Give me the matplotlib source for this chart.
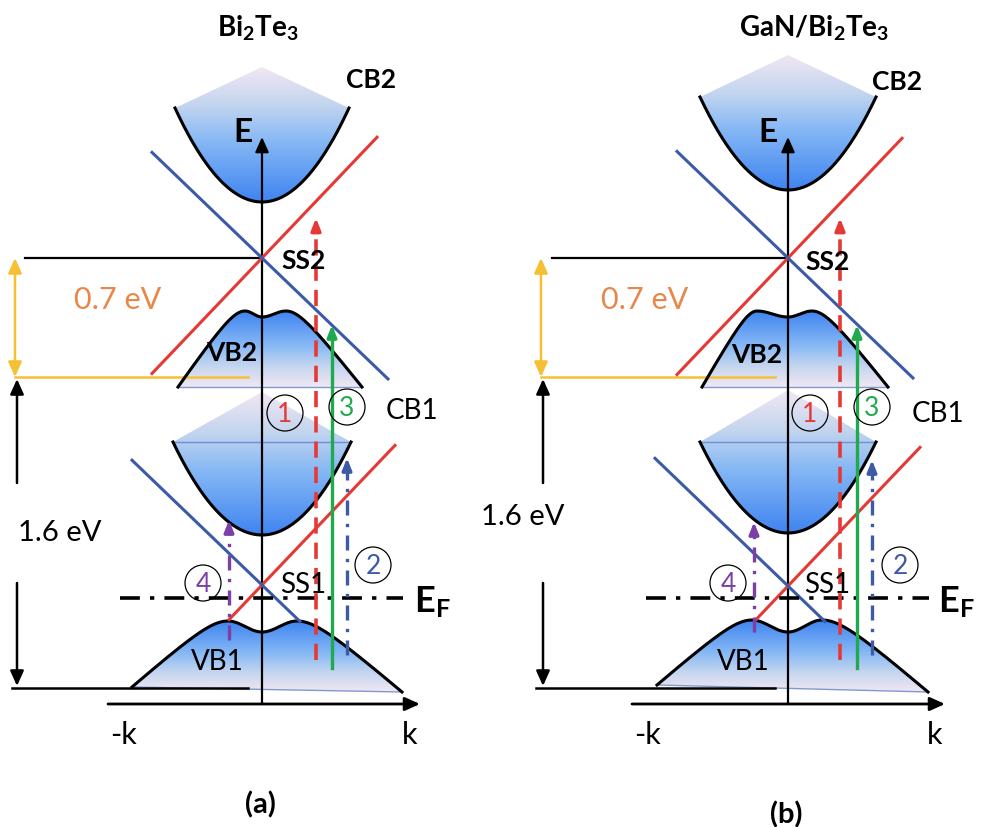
import numpy as np
import matplotlib.pyplot as plt
from matplotlib.patches import Polygon, Circle
from matplotlib.colors import LinearSegmentedColormap

plt.rcParams['font.family'] = ['Lato', 'DejaVu Sans']
plt.rcParams['mathtext.fontset'] = 'custom'
plt.rcParams['mathtext.rm'] = 'Lato'
plt.rcParams['mathtext.bf'] = 'Lato:bold'
plt.rcParams['mathtext.it'] = 'Lato:italic'

# ---- band-structure sketch, pixel units (y grows downward) ----
titles = [r'$\mathbf{Bi_2Te_3}$', r'$\mathbf{GaN/Bi_2Te_3}$']
tags = ['(a)', '(b)']
k0 = [262, 788]                 # Gamma point, E axis
k_left = [-154, -156]           # k axis start (relative)
k_right = [158, 157]            # k axis end (relative)
k_axis_y = 704
e_axis_top = 137

# conduction bands: minimum, rim, top of shading, half width at rim
cb2_min = [202, 190]
cb2_rim = [108, 97]
cb2_apex = [67, 55]
cb2_half = [87, 88]
cb1_min = [535, 533]
cb1_rim = [442, 442]
cb1_apex = [392, 390]
cb1_half = [89, 88]

# valence bands: hump top, dip at Gamma, hump positions, feet (k, E)
vb2_peak = [311, 311]
vb2_dip = [317, 317]
vb2_hump = [(-17, 24), (-31, 24)]
vb2_feet = [(-84, 100), (-86, 100)]
vb2_foot_e = [387, 387]
vb1_peak = [621, 620]
vb1_dip = [632, 632]
vb1_hump = [(-34, 35), (-36, 34)]
vb1_feet = [(-130, 140), (-131, 140)]
vb1_foot_e = [(687, 692), (685, 692)]

# surface-state Dirac cones: Dirac energy, k span of each branch
ss2_e = [258, 258]
ss2_red = [(-110, 115), (-111, 114)]
ss2_blue = [(-110, 126), (-111, 125)]
ss1_e = [585, 586]
ss1_red = [(-33, 133), (-33, 132)]
ss1_blue = [(-130, 38), (-133, 37)]
red_slope, blue_slope = 1.05, 0.96

# optical transitions: k, start E, end E
tr1 = [(54, 660, 218), (52, 660, 218)]
tr2 = [(85, 655, 458), (84, 655, 460)]
tr3 = [(70, 668, 325), (69, 668, 325)]
tr4 = [(-33, 640, 520), (-34, 632, 522)]
circ1 = [(285, 413), (810, 413)]
circ2 = [(373, 565), (900, 565)]
circ3 = [(347, 407), (872, 407)]
circ4 = [(203, 583), (728, 583)]

# energy scale bars
bar_x = [15, 541]
bar_line_start = [25, 552]
bar_low_start = [12, 536]
bar_line_end = [248, 775]
gap_top = 258
gap_mid = 377
gap_bottom = 688
gap_small = '0.7 eV'
gap_large = '1.6 eV'
small_pos = [(118, 300), (645, 300)]
large_pos = [(60, 533), (523, 517)]
ef_level = 598
ef_label_x = [414, 938]

RED = '#e53935'
BLUE = '#3d5aa6'
GREEN = '#1faa4e'
PURPLE = '#7b3fa6'
YELLOW = '#f6c035'
ORANGE = '#e8874a'

band_cmap = LinearSegmentedColormap.from_list(
    'band', [(0, '#3f84f0'), (0.45, '#86b8f5'), (0.72, '#c3d5ef'), (1, '#f1e7f3')])

fig = plt.figure(figsize=(9.81, 8.27), dpi=100)
ax = fig.add_axes([0, 0, 1, 1])
ax.axis('off')


def shade(xy, y_dark, y_light):
    patch = Polygon(xy, closed=True, facecolor='none', edgecolor='none')
    ax.add_patch(patch)
    ys = np.linspace(xy[:, 1].min(), xy[:, 1].max(), 300)
    vals = np.clip((ys - y_dark) / (y_light - y_dark), 0, 1)
    im = ax.imshow(vals[:, None], cmap=band_cmap, vmin=0, vmax=1,
                   extent=(xy[:, 0].min(), xy[:, 0].max(), ys.max(), ys.min()),
                   origin='upper', aspect='auto', interpolation='bilinear', zorder=1)
    im.set_clip_path(patch)


def conduction(x0, e_min, e_rim, e_apex, half, rim_line):
    k = np.linspace(-half, half, 200)
    e = e_min - (e_min - e_rim) * (k / half) ** 2
    xy = np.vstack([np.column_stack([x0 + k, e]),
                    [[x0 + half, e_rim], [x0, e_apex], [x0 - half, e_rim]]])
    shade(xy, e_min, e_apex)
    ax.plot(x0 + k, e, color='black', lw=2.2, zorder=3)
    if rim_line:
        ax.plot([x0 - half, x0 + half], [e_rim, e_rim], color='#6f8fd0', lw=1, zorder=2)


def valence(x0, e_peak, e_dip, hump, feet, foot_e):
    kl, kr = hump
    fl, fr = feet
    el, er = foot_e
    c = 4.0

    def side(t, e_end):
        s = (np.sqrt(1 + (c * t) ** 2) - 1) / (np.sqrt(1 + c ** 2) - 1)
        return e_peak + (e_end - e_peak) * s

    k = np.linspace(fl, fr, 400)
    e = np.empty_like(k)
    m = k < kl
    e[m] = side((kl - k[m]) / (kl - fl), el)
    m = (k >= kl) & (k < 0)
    e[m] = e_dip + (e_peak - e_dip) * (1 - np.cos(np.pi * k[m] / kl)) / 2
    m = (k >= 0) & (k <= kr)
    e[m] = e_dip + (e_peak - e_dip) * (1 - np.cos(np.pi * k[m] / kr)) / 2
    m = k > kr
    e[m] = side((k[m] - kr) / (fr - kr), er)
    xy = np.column_stack([x0 + k, e])
    shade(xy, e_peak, max(el, er))
    ax.plot(x0 + k, e, color='black', lw=2.2, zorder=3)
    ax.plot([x0 + fl, x0 + fr], [el, er], color='#7d9bd0', lw=1, zorder=2)


def cone(x0, e_d, red_span, blue_span):
    kr = np.array(red_span)
    kb = np.array(blue_span)
    ax.plot(x0 + kr, e_d - red_slope * kr, color=RED, lw=2.2, zorder=4)
    ax.plot(x0 + kb, e_d + blue_slope * kb, color=BLUE, lw=2.2, zorder=4)


def up_arrow(x, y0, y1, color, ls, lw=2.2):
    head = 10
    ax.plot([x, x], [y0, y1 + head * 0.7], color=color, lw=lw, ls=ls, zorder=5)
    ax.annotate('', xy=(x, y1), xytext=(x, y1 + head),
                arrowprops=dict(arrowstyle='-|>,head_length=1.0,head_width=0.4',
                                mutation_scale=7, color=color, lw=lw,
                                shrinkA=0, shrinkB=0), zorder=5)


def circled(pos, num, color):
    ax.add_patch(Circle(pos, 18, facecolor='none', edgecolor='black', lw=0.9, zorder=6))
    ax.text(pos[0], pos[1] + 1, num, color=color, fontsize=19,
            ha='center', va='center', zorder=7)


label_pos = {
    'CB2': [(371, 80), (897, 82)],
    'E': [(243, 133), (768, 133)],
    'SS2': [(304, 261), (828, 262)],
    'VB2': [(232, 353), (757, 355)],
    'CB1': [(412, 411), (938, 414)],
    'SS1': [(303, 585), (827, 585)],
    'VB1': [(217, 662), (743, 662)],
}
bold_labels = {'CB2', 'E', 'SS2', 'VB2'}

for i in range(2):
    x0 = k0[i]

    conduction(x0, cb2_min[i], cb2_rim[i], cb2_apex[i], cb2_half[i], False)
    conduction(x0, cb1_min[i], cb1_rim[i], cb1_apex[i], cb1_half[i], True)
    valence(x0, vb2_peak[i], vb2_dip[i], vb2_hump[i], vb2_feet[i],
            (vb2_foot_e[i], vb2_foot_e[i]))
    valence(x0, vb1_peak[i], vb1_dip[i], vb1_hump[i], vb1_feet[i], vb1_foot_e[i])

    # E and k axes
    ax.annotate('', xy=(x0, e_axis_top), xytext=(x0, k_axis_y),
                arrowprops=dict(arrowstyle='-|>,head_length=1.0,head_width=0.45',
                                mutation_scale=9, color='black', lw=1.6,
                                shrinkA=0, shrinkB=0), zorder=3)
    ax.annotate('', xy=(x0 + k_right[i], k_axis_y), xytext=(x0 + k_left[i], k_axis_y),
                arrowprops=dict(arrowstyle='-|>,head_length=1.0,head_width=0.45',
                                mutation_scale=9, color='black', lw=2,
                                shrinkA=0, shrinkB=0), zorder=3)

    cone(x0, ss2_e[i], ss2_red[i], ss2_blue[i])
    cone(x0, ss1_e[i], ss1_red[i], ss1_blue[i])

    # Fermi level
    ax.plot([x0 - 142, x0 + 141], [ef_level, ef_level], color='black', lw=2.6,
            ls=(0, (5.5, 2.8, 1.2, 2.8)), zorder=4)
    ax.text(ef_label_x[i], ef_level + 4, r'$\mathbf{E_F}$', fontsize=26,
            ha='left', va='center')

    up_arrow(x0 + tr1[i][0], tr1[i][1], tr1[i][2], RED, (0, (4.5, 2.5)), lw=2.6)
    up_arrow(x0 + tr3[i][0], tr3[i][1], tr3[i][2], GREEN, '-', lw=2.4)
    up_arrow(x0 + tr2[i][0], tr2[i][1], tr2[i][2], BLUE, (0, (4.5, 2.5, 1, 2.5)), lw=2.4)
    up_arrow(x0 + tr4[i][0], tr4[i][1], tr4[i][2], PURPLE, (0, (4.5, 2.5, 1, 2.5)), lw=2.4)
    circled(circ1[i], '1', RED)
    circled(circ2[i], '2', BLUE)
    circled(circ3[i], '3', GREEN)
    circled(circ4[i], '4', PURPLE)

    # energy scale bars
    bx = bar_x[i]
    ax.plot([bar_line_start[i], x0], [gap_top, gap_top], color='black', lw=1.6, zorder=2)
    ax.plot([bx, bar_line_end[i]], [gap_mid, gap_mid], color=YELLOW, lw=1.8, zorder=2)
    ax.plot([bar_low_start[i], bar_line_end[i]], [gap_bottom, gap_bottom],
            color='black', lw=1.8, zorder=2)
    ax.annotate('', xy=(bx, gap_top), xytext=(bx, gap_mid),
                arrowprops=dict(arrowstyle='<|-|>,head_length=1.0,head_width=0.45',
                                mutation_scale=9, color=YELLOW, lw=1.8,
                                shrinkA=0, shrinkB=0))
    ax.annotate('', xy=(bx + 2, gap_mid + 2), xytext=(bx + 2, 483),
                arrowprops=dict(arrowstyle='-|>,head_length=1.0,head_width=0.45',
                                mutation_scale=9, color='black', lw=1.8,
                                shrinkA=0, shrinkB=0))
    ax.annotate('', xy=(bx + 2, gap_bottom - 2), xytext=(bx + 2, 583),
                arrowprops=dict(arrowstyle='-|>,head_length=1.0,head_width=0.45',
                                mutation_scale=9, color='black', lw=1.8,
                                shrinkA=0, shrinkB=0))
    ax.text(*small_pos[i], gap_small, color=ORANGE, fontsize=22, ha='center', va='center')
    ax.text(*large_pos[i], gap_large, color='black', fontsize=21, ha='center', va='center')

    for name, pos in label_pos.items():
        size = 24 if name == 'E' else (19 if name in bold_labels else 20)
        weight = 'bold' if name in bold_labels else 'normal'
        ax.text(*pos[i], name, fontsize=size, fontweight=weight,
                ha='center', va='center', zorder=8)

    ax.text(x0 + k_left[i] + 15, 735, '-k', fontsize=22, ha='center', va='center')
    ax.text(x0 + k_right[i] - 10, 735, 'k', fontsize=22, ha='center', va='center')
    ax.text(x0 - 4 + i * 30, 28, titles[i], fontsize=20, ha='center', va='center')
    ax.text(x0 - 2, 805 + i * 10, tags[i], fontsize=21, fontweight='bold',
            ha='center', va='center')

ax.set_xlim(0, 981)
ax.set_ylim(827, 0)
fig.savefig('out.png', dpi=100)
